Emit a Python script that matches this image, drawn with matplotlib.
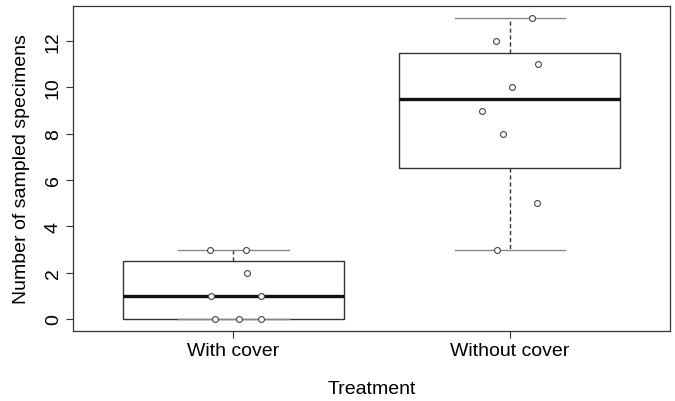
import numpy as np
import matplotlib.pyplot as plt

plt.rcParams['font.family'] = ['Liberation Sans', 'DejaVu Sans']

groups = ['With cover', 'Without cover']
with_cover = [3, 3, 2, 1, 1, 0, 0, 0]
without_cover = [13, 12, 11, 10, 9, 8, 5, 3]
# horizontal jitter
jit_with = [-0.083, 0.045, 0.051, -0.080, 0.099, -0.066, 0.021, 0.099]
jit_without = [0.081, -0.049, 0.100, 0.009, -0.100, -0.026, 0.098, -0.045]


def r_stats(vals):
    # Tukey hinges like R's boxplot (fivenum)
    x = np.sort(np.array(vals, dtype=float))
    n = len(x)
    n4 = np.floor((n + 3) / 2) / 2
    d = np.array([1, n4, (n + 1) / 2, n + 1 - n4, n]) - 1
    f = 0.5 * (x[np.floor(d).astype(int)] + x[np.ceil(d).astype(int)])
    return dict(whislo=f[0], q1=f[1], med=f[2], q3=f[3], whishi=f[4], fliers=[])


fig = plt.figure(figsize=(6.75, 4.02), dpi=100)
ax = fig.add_axes([0.108, 0.174, 0.885, 0.809])

edge = '#333333'
ax.bxp([r_stats(with_cover), r_stats(without_cover)], positions=[1, 2],
       widths=0.8, capwidths=0.4, patch_artist=True, showfliers=False,
       boxprops=dict(facecolor='white', edgecolor=edge, linewidth=1.0),
       medianprops=dict(color='#111111', linewidth=2.4),
       whiskerprops=dict(color=edge, linewidth=1.0, linestyle=(0, (3, 2))),
       capprops=dict(color='#888888', linewidth=1.0))

for i, (vals, jit) in enumerate([(with_cover, jit_with), (without_cover, jit_without)]):
    ax.scatter(np.array(jit) + i + 1, vals, s=18, facecolors='white',
               edgecolors='#444444', linewidths=0.8, zorder=5)

ax.set_xlim(0.42, 2.58)
ax.set_ylim(-0.52, 13.52)
ax.set_yticks(range(0, 13, 2))
ax.set_yticklabels([str(v) for v in range(0, 13, 2)], rotation=90, va='center')
ax.set_xticks([1, 2])
ax.set_xticklabels(groups)
ax.tick_params(labelsize=14, length=5, width=0.8, color=edge, pad=3)
for s in ax.spines.values():
    s.set_color(edge)
    s.set_linewidth(0.9)

ax.set_ylabel('Number of sampled specimens', fontsize=14, va='center')
ax.yaxis.set_label_coords(-0.0854, 0.5)
ax.set_xlabel('Treatment', fontsize=14, va='center')
ax.xaxis.set_label_coords(0.5, -0.178)

fig.savefig('out.png', dpi=100)
